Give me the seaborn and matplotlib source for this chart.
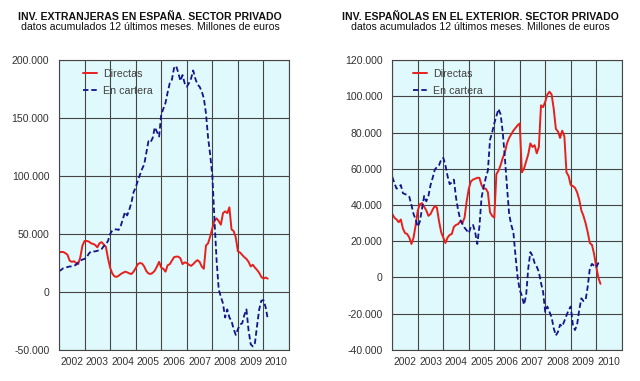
import numpy as np
import pandas as pd
import seaborn as sns
import matplotlib.pyplot as plt
from matplotlib.ticker import FuncFormatter, MultipleLocator

# monthly values, thousands of euros, Jan 2002 - Mar 2010
ext_directas = [
    34, 34.5, 34.5, 33.5, 32, 27, 26, 26.5, 25, 24, 30, 40,            # 2002
    44, 44, 43.5, 42, 41.5, 40.5, 38.5, 42, 43, 41, 39, 29,            # 2003
    21, 16, 13.5, 13, 14, 15.5, 16.5, 17.5, 17, 16, 15.5, 17.5,        # 2004
    20.5, 24, 25, 24.5, 22, 18, 16, 15.5, 16.5, 18.5, 22, 26,          # 2005
    21, 20, 17.5, 23, 24, 27, 30, 30.5, 30.5, 29, 24, 25.5,            # 2006
    25, 23.5, 22.5, 24, 26, 27.5, 26, 22, 20, 40, 42, 48,              # 2007
    55, 61.5, 63.5, 61, 58, 68, 69.5, 68, 73, 54, 52.5, 47,            # 2008
    35, 34, 32, 30, 28.5, 26, 22, 23.5, 21, 19, 16.5, 13,              # 2009
    11.5, 12.5, 11.5,                                                  # 2010
]
ext_cartera = [
    18, 19, 20.5, 21, 21.5, 22, 22, 22.5, 23.5, 25.5, 27, 28,
    28.5, 30, 33, 35, 35, 35, 35.5, 36, 37, 39.5, 41, 44,
    50, 53, 54, 54, 53.5, 57, 63, 69, 66, 71, 77, 86,
    90, 96, 101, 106, 110, 120, 130, 129, 133, 142, 138, 134,
    153, 158, 163, 172, 180, 183, 193, 195, 189, 182, 187, 180,
    177, 180, 184, 191, 184, 179, 177, 173, 167, 154, 133, 118,
    100, 62, 27, 2, -4, -10, -22, -15, -22, -25, -32, -37,
    -32, -28, -27, -20, -15, -33, -45, -47, -44, -29, -15, -7.5,
    -7, -13, -23,
]
esp_directas = [
    35, 33, 32, 30.5, 32, 27, 24.5, 24, 22, 18.5, 22, 29,
    37, 40.5, 41, 39, 37, 34, 35, 37.5, 39.5, 38.5, 31, 25,
    22, 19, 22, 23.5, 24, 28, 29, 29.5, 31, 30, 33, 42,
    49, 53, 54, 54.5, 55, 55, 51, 49, 49, 47, 36, 34,
    33, 57, 59, 62, 66, 69, 74, 77, 79, 81, 82.5, 84,
    85, 58, 60, 64, 68, 74, 72, 73, 68.5, 72, 95, 94,
    97, 101, 102.5, 101, 93, 82, 80.5, 77, 81, 78, 58, 56,
    51, 50.5, 49.5, 47, 43, 37, 34, 30, 25, 19, 18, 13,
    6, 0, -3.5,
]
esp_cartera = [
    55.5, 52, 49, 50, 51, 46.5, 46, 45.5, 44.5, 40, 35, 32,
    28, 31, 38, 45, 42, 45, 51, 55, 59.5, 61, 62, 65,
    66, 62, 56, 51.5, 52.5, 54, 44, 37, 32, 29.5, 27.5, 26,
    24.5, 28, 29, 25, 18.5, 28, 44, 50, 55, 59, 76, 80,
    85, 89, 93, 90, 80, 66, 50, 35, 29, 25, 12, 0,
    -7, -10, -15, -10, 5, 14, 12, 8, 6, 3, -3, -8,
    -19, -16, -19, -22, -28, -32, -30, -26, -27, -24, -21, -18,
    -16, -26, -29, -26, -18, -11.5, -13, -12.5, -5, 5, 7.5, 6.5,
    5.5, 8, 8.5,
]
years = list(range(2002, 2011))

titles = [
    ("INV. EXTRANJERAS EN ESPAÑA. SECTOR PRIVADO",
     "datos acumulados 12 últimos meses. Millones de euros"),
    ("INV. ESPAÑOLAS EN EL EXTERIOR. SECTOR PRIVADO",
     "datos acumulados 12 últimos meses. Millones de euros"),
]

dates = pd.date_range("2002-01-01", periods=len(ext_directas), freq="MS")
t = dates.year + (dates.month - 1) / 12


def build(directas, cartera):
    return pd.DataFrame({
        "t": np.concatenate([t, t]),
        "valor": np.array(directas + cartera) * 1000,
        "serie": ["Directas"] * len(t) + ["En cartera"] * len(t),
    })


sns.set_style("white")
plt.rcParams["font.family"] = ["Liberation Sans", "DejaVu Sans"]

fig = plt.figure(figsize=(6.4, 3.81), dpi=100)
ax1 = fig.add_axes([0.0922, 0.0814, 0.3594, 0.7611])
ax2 = fig.add_axes([0.6130, 0.0814, 0.3584, 0.7611])

fmt = FuncFormatter(lambda v, p: f"{v:,.0f}".replace(",", "."))
panels = [
    (ax1, build(ext_directas, ext_cartera), (-50000, 200000), 50000, 0.068),
    (ax2, build(esp_directas, esp_cartera), (-40000, 120000), 20000, 0.053),
]

for ax, df, ylim, step, lx in panels:
    ax.set_facecolor("#E0F9FC")
    sns.lineplot(data=df[df.serie == "Directas"], x="t", y="valor", ax=ax,
                 color="#E8201C", lw=1.4, label="Directas")
    sns.lineplot(data=df[df.serie == "En cartera"], x="t", y="valor", ax=ax,
                 color="#14148C", lw=1.3, linestyle=(0, (3, 1.6)), label="En cartera")
    ax.set_xlim(2002, 2011)
    ax.set_ylim(*ylim)
    ax.yaxis.set_major_locator(MultipleLocator(step))
    ax.yaxis.set_major_formatter(fmt)
    ax.set_xticks(range(2002, 2012))
    ax.set_xticklabels([])
    ax.set_xticks([y + 0.5 for y in years], minor=True)
    ax.set_xticklabels([str(y) for y in years], minor=True)
    ax.tick_params(axis="x", which="both", length=0, pad=5, labelsize=7.4, labelcolor="#333333")
    ax.tick_params(axis="y", length=0, pad=7, labelsize=7.6, labelcolor="#333333")
    ax.grid(True, which="major", color="#454545", lw=0.8)
    for s in ax.spines.values():
        s.set_color("#454545")
        s.set_linewidth(0.8)
    ax.set_xlabel("")
    ax.set_ylabel("")
    leg = ax.legend(loc="upper left", bbox_to_anchor=(lx, 1.0), frameon=False,
                    fontsize=7.7, handlelength=1.3, handletextpad=0.55,
                    labelspacing=0.7, borderpad=0.3)
    for txt in leg.get_texts():
        txt.set_color("#404040")

for (l1, l2), tx in zip(titles, [150, 480]):
    fig.text(tx / 640, 1 - 16.5 / 381, l1, ha="center", va="center",
             fontsize=7.6, fontweight="bold", color="#111111")
    fig.text(tx / 640, 1 - 27.5 / 381, l2, ha="center", va="center",
             fontsize=7.6, color="#111111")

fig.savefig("out.png", dpi=100, facecolor="white")
